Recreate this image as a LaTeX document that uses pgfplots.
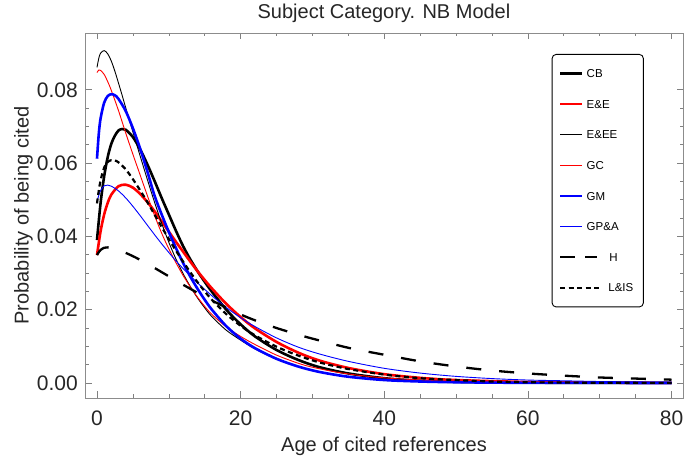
\documentclass[border=0pt]{standalone}
\usepackage{fontspec}
\setmainfont{Liberation Sans}
\usepackage{pgfplots}
\usepackage{pgfplotstable}
\pgfplotsset{compat=1.18}

\pgfplotsset{
  legS/.style 2 args={legend image code/.code={\draw[#1, line width=#2, solid] (0bp,0bp) -- (22bp,0bp);}},
  legH/.style={legend image code/.code={\draw[black, line width=2.3bp, dash pattern=on 15bp off 10bp, overlay] (0bp,0bp) -- (36.7bp,0bp); \path (0bp,0bp) -- (22bp,0bp);}},
  legL/.style={legend image code/.code={\draw[black, line width=2.2bp, dash pattern=on 5bp off 3.5bp, overlay] (0bp,0bp) -- (41.7bp,0bp); \path (0bp,0bp) -- (22bp,0bp);}},
}

\pgfplotstableread{
x y
0 0.0390
0.5 0.0491
1 0.0564
1.5 0.0617
2 0.0653
2.5 0.0675
3 0.0689
3.5 0.0693
4 0.0691
5 0.0671
6 0.0638
7 0.0597
8 0.0552
9 0.0505
10 0.0460
11 0.0415
12 0.0373
13 0.0337
14 0.0305
15 0.0276
16 0.0249
18 0.0200
20 0.0160
22 0.0127
25 0.0090
28 0.0063
31 0.0043
35 0.0026
40 0.0013
45 0.0006
50 0.0003
60 0.0001
70 0.00003
80 0.00001
}\tCB

\pgfplotstableread{
x y
0 0.0349
0.5 0.0414
1 0.0460
1.5 0.0492
2 0.0514
3 0.0537
4 0.0541
5 0.0533
6 0.0516
7 0.0494
8 0.0469
9 0.0441
10 0.0413
11 0.0385
12 0.0358
13 0.0331
14 0.0305
15 0.0281
16 0.0258
18 0.0216
20 0.0180
22 0.0149
25 0.0112
28 0.0083
31 0.0061
35 0.0041
40 0.0024
45 0.0014
50 0.0008
60 0.00027
70 0.0001
80 0.00003
}\tEE

\pgfplotstableread{
x y
0 0.0861
0.25 0.0886
0.5 0.0900
1 0.0907
1.5 0.0898
2 0.0878
2.5 0.0850
3 0.0818
3.5 0.0785
4 0.0751
5 0.0685
6 0.0620
7 0.0556
8 0.0494
9 0.0436
10 0.0384
11 0.0338
12 0.0298
13 0.0263
14 0.0232
15 0.0205
16 0.0181
18 0.0144
20 0.0117
22 0.0093
25 0.0065
28 0.0045
30 0.0034
33 0.0023
36 0.0015
40 0.0008
45 0.0004
50 0.0002
60 0.00005
80 0.0
}\tEEE

\pgfplotstableread{
x y
0 0.0847
0.25 0.0854
0.5 0.0853
1 0.0842
1.5 0.0822
2 0.0798
3 0.0743
4 0.0682
5 0.0624
6 0.0568
7 0.0512
8 0.0458
9 0.0409
10 0.0366
11 0.0328
12 0.0293
13 0.0262
14 0.0234
15 0.0209
16 0.0187
18 0.0153
20 0.0127
22 0.0105
25 0.0076
28 0.0054
30 0.0043
33 0.0031
36 0.0022
40 0.0014
45 0.0008
50 0.0004
60 0.00012
70 0.00004
80 0.00001
}\tGC

\pgfplotstableread{
x y
0 0.0612
0.25 0.0680
0.5 0.0722
1 0.0765
1.5 0.0783
2 0.0788
2.5 0.0785
3 0.0775
4 0.0742
5 0.0695
6 0.0640
7 0.0578
8 0.0512
9 0.0460
10 0.0412
11 0.0368
12 0.0327
13 0.0290
14 0.0257
15 0.0227
16 0.0200
18 0.0155
20 0.0121
22 0.0095
25 0.0066
28 0.0045
31 0.0030
35 0.0017
40 0.0008
45 0.0004
50 0.0002
60 0.00004
80 0.0
}\tGM

\pgfplotstableread{
x y
0 0.0495
0.25 0.0512
0.5 0.0525
1 0.0538
1.5 0.0540
2 0.0537
3 0.0524
4 0.0505
5 0.0482
6 0.0457
7 0.0431
8 0.0405
9 0.0380
10 0.0356
11 0.0333
12 0.0312
13 0.0292
14 0.0273
16 0.0238
18 0.0206
20 0.0178
22 0.0154
25 0.0123
28 0.0098
31 0.0079
35 0.0059
40 0.0040
45 0.0027
50 0.0018
55 0.0012
60 0.0008
65 0.0006
70 0.0004
75 0.0003
80 0.0002
}\tGPA

\pgfplotstableread{
x y
0 0.0349
0.25 0.0357
0.5 0.0363
1 0.0369
1.5 0.0370
2 0.0369
3 0.0363
4 0.0355
5 0.0346
6 0.0336
8 0.0314
10 0.0291
12 0.0268
14 0.0246
16 0.0225
18 0.0206
20 0.0187
22 0.0171
25 0.0150
28 0.0132
30 0.0121
35 0.0096
40 0.0077
45 0.0059
50 0.0045
55 0.0034
60 0.0026
65 0.0020
70 0.0015
75 0.0012
80 0.0009
}\tH

\pgfplotstableread{
x y
0 0.0490
0.25 0.0525
0.5 0.0553
1 0.0588
1.5 0.0603
2 0.0608
2.5 0.0607
3 0.0602
4 0.0583
5 0.0556
6 0.0526
7 0.0494
8 0.0460
9 0.0426
10 0.0393
11 0.0361
12 0.0331
13 0.0302
14 0.0275
15 0.0250
16 0.0227
18 0.0188
20 0.0156
22 0.0130
25 0.0099
28 0.0075
31 0.0056
35 0.0038
40 0.0023
45 0.0013
50 0.0008
55 0.0004
60 0.0002
70 0.00006
80 0.00002
}\tLIS

\newcommand{\tickfont}{\fontsize{21bp}{25bp}\selectfont}
\newcommand{\labfont}{\fontsize{20bp}{24bp}\selectfont}
\newcommand{\legfont}{\fontsize{11.5bp}{13bp}\selectfont}

\begin{document}
\begin{tikzpicture}
\useasboundingbox (0,0) rectangle (688bp,464bp);
\begin{axis}[
  at={(85bp,66bp)}, anchor=south west,
  scale only axis, width=598bp, height=365bp,
  xmin=-1.67, xmax=81.6, ymin=-0.0041, ymax=0.0955,
  xtick={0,20,40,60,80}, ytick={0,0.02,0.04,0.06,0.08},
  minor x tick num=3, minor y tick num=3,
  tick align=inside, tick pos=both,
  major tick length=6.5bp, minor tick length=3.5bp,
  every tick/.style={black!50, line width=0.6bp},
  axis line style={black!45, line width=0.8bp},
  scaled y ticks=false,
  /pgf/number format/assume math mode=true,
  yticklabel style={/pgf/number format/fixed, /pgf/number format/fixed zerofill, /pgf/number format/precision=2, font=\tickfont, inner sep=0pt, xshift=-7bp, text=black!85},
  xticklabel style={font=\tickfont, inner sep=0pt, yshift=-13bp, text=black!85},
  xlabel={Age of cited references},
  ylabel={Probability of being cited},
  xlabel style={at={(axis description cs:0.5,-0.1315)}, anchor=center, font=\labfont, text=black!85},
  ylabel style={at={(axis description cs:-0.103,0.5)}, anchor=center, font=\labfont, text=black!85},
  title={Subject Category. NB Model},
  title style={at={(axis description cs:0.5,1)}, anchor=base, yshift=9bp, font=\fontsize{20bp}{23bp}\selectfont, text=black!85},
  legend cell align=left,
  legend style={at={(axis description cs:0.7804,0.9425)}, anchor=north west,
    draw=black, line width=0.9bp, rounded corners=4bp,
    inner xsep=6.65bp, inner ysep=15bp, row sep=22.3bp,
    nodes={inner xsep=3.35bp, inner ysep=0pt, text height=8.3bp, text depth=0pt, font=\legfont}},
]
\addplot[black, line width=2.6bp, smooth, legS={black}{2.6bp}] table {\tCB};
\addlegendentry{CB}
\addplot[red, line width=2.6bp, smooth, legS={red}{2.6bp}] table {\tEE};
\addlegendentry{E\&E}
\addplot[black, line width=0.9bp, smooth, legS={black}{1bp}] table {\tEEE};
\addlegendentry{E\&EE}
\addplot[red, line width=0.9bp, smooth, legS={red}{1bp}] table {\tGC};
\addlegendentry{GC}
\addplot[blue, line width=2.6bp, smooth, legS={blue}{2.6bp}] table {\tGM};
\addlegendentry{GM}
\addplot[blue, line width=0.9bp, smooth, legS={blue}{1bp}] table {\tGPA};
\addlegendentry{GP\&A}
\addplot[black, line width=2.3bp, smooth, dash pattern=on 15bp off 18bp, legH] table {\tH};
\addlegendentry{\hspace*{22.7bp}H}
\addplot[black, line width=2.2bp, smooth, dash pattern=on 5bp off 3.5bp, legL] table {\tLIS};
\addlegendentry{\hspace*{21.7bp}L\&IS}
\end{axis}
\end{tikzpicture}
\end{document}
